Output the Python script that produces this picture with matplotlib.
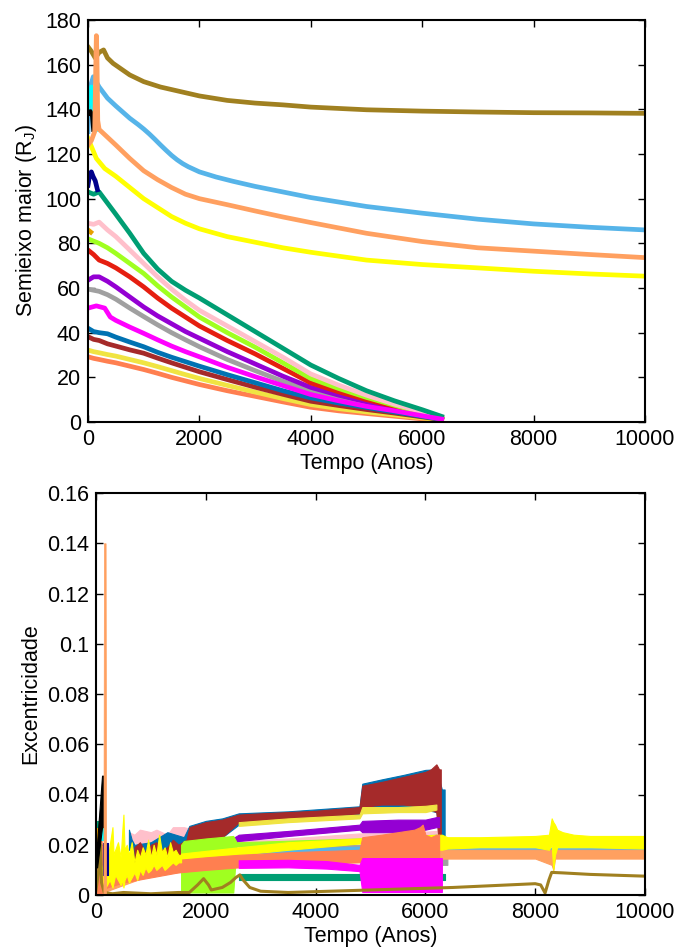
import matplotlib
matplotlib.use("Agg")
import matplotlib.pyplot as plt

plt.rcParams['font.family'] = ['Liberation Sans', 'DejaVu Sans']
plt.rcParams['font.size'] = 15.5

# ---------------- Top panel: semi-major axis (R_J) ----------------
T_DEC = [0, 100, 200, 350, 500, 750, 1000, 1250, 1500, 1750, 2000, 2500, 3000, 3500, 4000,
         4500, 5000, 5500, 6000, 6350]
a_teal = [103, 102, 103, 98, 93, 84.5, 75.5, 68.5, 63, 59, 55.5, 48, 40.5, 33, 25.5, 19.5, 14,
          9.5, 5.5, 2.5]
a_pink = [89, 88.5, 89.5, 86, 83, 77, 71, 65, 59.5, 54.5, 50, 43, 36, 29, 21.5, 16.5, 12, 8,
          4.5, 1.8]
a_gyel = [82, 81, 80, 78, 75.5, 71, 66.5, 61, 56, 51.5, 47, 40, 33.5, 26.5, 19.5, 15, 11, 7.5,
          4, 1.7]
a_red = [77, 75, 72.5, 71, 69, 65, 60.5, 55.5, 51, 47, 43, 36.5, 30.5, 24, 17.5, 13.5, 10, 7,
         4, 1.6]
a_purple = [63.5, 65, 65, 63, 60.5, 56, 51.5, 47.5, 44, 40.5, 37.5, 31.5, 26, 20.5, 15.5, 12,
            9, 6.2, 3.5, 1.5]
a_gray = [59.5, 59, 58.5, 57, 55, 51, 47.2, 43.5, 40, 36.8, 33.7, 28, 23, 18.2, 14, 10.7, 8,
          5.6, 3, 1.4]
a_blue = [42, 40.5, 40, 39.5, 38, 35.8, 33.7, 31.2, 29, 27, 25, 21.2, 17.6, 14, 10.8, 8.5, 6.5,
          4.5, 2.5, 1.2]
a_brown = [38.2, 37, 36.5, 35, 34, 32.3, 30.8, 28.6, 26.5, 24.5, 22.5, 19, 15.6, 12.4, 9.3, 7.4,
           5.6, 4, 2.3, 1.1]
a_khaki = [32.2, 31.5, 31, 30.2, 29.5, 28, 26.5, 24.8, 23, 21.2, 19.5, 16.4, 13.4, 10.5, 7.8,
           6, 4.5, 3.2, 1.8, 1.0]
a_coral = [29.2, 28.5, 28, 27.2, 26.5, 25, 23.5, 21.8, 20, 18.4, 16.8, 14, 11.5, 9, 6.6, 5, 3.8,
           2.6, 1.4, 0.7]

t_mag = [0, 150, 300, 400, 500, 750, 1000, 1250, 1500, 1750, 2000, 2500, 3000, 3500, 4000, 4500,
         5000, 5500, 6000, 6350]
a_mag = [51, 52, 51, 47, 45.5, 42.5, 39.7, 36.8, 34, 31.5, 29.2, 24.5, 20.3, 16.3, 12.3, 9.5, 7,
         5, 2.8, 1.3]

t_olive = [0, 60, 130, 200, 280, 350, 450, 600, 750, 1000, 1300, 1650, 2000, 2500, 3000, 3500,
           4000, 5000, 6000, 7000, 8000, 9000, 10000]
a_olive = [168, 166, 163, 165.5, 166.6, 163, 160.6, 158, 155.4, 152.4, 150, 148, 146, 144, 142.8,
           142, 141, 139.8, 139.2, 138.8, 138.5, 138.4, 138.2]

t_sky = [0, 40, 95, 200, 350, 500, 750, 900, 1000, 1100, 1200, 1300, 1400, 1500, 1600, 1700,
         1800, 2000, 2300, 2600, 3000, 3500, 4000, 5000, 6000, 7000, 8000, 9000, 10000]
a_sky = [130, 150, 154.6, 150, 145, 141.5, 136, 133.2, 131.2, 129, 126.6, 124.1, 121.7, 119.4,
         117.4, 115.7, 114.3, 112, 109.7, 107.8, 105.5, 103, 100.5, 96.5, 93.5, 90.8, 88.7, 87.2,
         86]

t_salmon = [0, 60, 120, 140, 150, 160, 175, 200, 350, 500, 750, 1000, 1250, 1500, 1750, 2000,
            2500, 3000, 3500, 4000, 5000, 6000, 7000, 8000, 9000, 10000]
a_salmon = [124, 126, 130, 160, 173, 165, 135, 131, 127.5, 124, 118, 112.5, 108.5, 105, 102, 100,
            97.3, 94.5, 91.8, 89.3, 84.5, 80.8, 78, 76.5, 75, 73.6]

t_yel = [0, 150, 300, 500, 750, 1000, 1250, 1500, 1750, 2000, 2500, 3000, 3500, 4000, 5000, 6000,
         7000, 8000, 9000, 10000]
a_yel = [127, 118, 113.5, 110, 105, 100, 96, 92, 89, 86.5, 83, 80.5, 78, 76, 72.5, 70.5, 69,
         67.5, 66.3, 65.3]

t_cyan = [0, 30, 60, 90, 120, 150]
a_cyan = [140, 147, 150, 143, 136, 131]
t_black = [0, 40, 80, 100]
a_black = [138, 139, 137, 131]
t_navy = [0, 30, 60, 90, 130, 170]
a_navy = [106, 111, 112, 110, 108, 104]
t_orange = [0, 50]
a_orange = [86, 85]

# ---------------- Bottom panel: eccentricity (time, lower, upper) ----------------
t_gray_e = [1600, 2600, 4800, 6200, 6300, 6400]
lo_gray_e = [0.0165, 0.017, 0.018, 0.018, 0.012, 0.012]
hi_gray_e = [0.0185, 0.019, 0.020, 0.020, 0.016, 0.016]

t_pink_e = [600, 700, 800, 1000, 1100, 1300, 1400, 1600, 2600, 3500, 4800, 5500, 6200]
lo_pink_e = [0.020, 0.021, 0.020, 0.021, 0.020, 0.021, 0.022, 0.022, 0.019, 0.0205, 0.0225,
             0.023, 0.024]
hi_pink_e = [0.025, 0.024, 0.026, 0.025, 0.026, 0.024, 0.027, 0.027, 0.0215, 0.0225, 0.0245,
             0.0245, 0.0255]

t_blue_e = [600, 650, 700, 1000, 1300, 1600, 1700, 2000, 2300, 2600, 3500, 4800, 4850, 5200,
            5600, 6000, 6200, 6300, 6350]
lo_blue_e = [0.018, 0.018, 0.012, 0.014, 0.012, 0.015, 0.021, 0.022, 0.023, 0.028, 0.0295, 0.031,
             0.034, 0.035, 0.035, 0.034, 0.033, 0.020, 0.020]
hi_blue_e = [0.026, 0.022, 0.020, 0.021, 0.025, 0.023, 0.0275, 0.0295, 0.0305, 0.0325, 0.0333,
             0.0353, 0.0443, 0.046, 0.0478, 0.0498, 0.050, 0.042, 0.042]

t_brown_e = [700, 800, 900, 1000, 1100, 1200, 1300, 1400, 1500, 1650, 1700, 2000, 2300, 2600,
             3000, 3500, 4000, 4800, 4850, 5200, 5600, 6000, 6100, 6200, 6250, 6280]
lo_brown_e = [0.013, 0.014, 0.012, 0.013, 0.014, 0.013, 0.013, 0.014, 0.015, 0.016, 0.0215,
              0.022, 0.023, 0.029, 0.0295, 0.030, 0.031, 0.0325, 0.035, 0.036, 0.036, 0.035,
              0.034, 0.033, 0.017, 0.017]
hi_brown_e = [0.019, 0.021, 0.017, 0.020, 0.021, 0.018, 0.019, 0.022, 0.020, 0.022, 0.027,
              0.029, 0.030, 0.032, 0.0325, 0.033, 0.0335, 0.035, 0.0435, 0.045, 0.047, 0.049,
              0.050, 0.052, 0.050, 0.050]

t_khaki_e = [2600, 3500, 4800, 4850, 5500, 6000, 6200]
lo_khaki_e = [0.0275, 0.029, 0.0305, 0.0325, 0.033, 0.033, 0.034]
hi_khaki_e = [0.029, 0.0305, 0.032, 0.035, 0.035, 0.0355, 0.036]

t_purple_e = [2450, 2600, 3500, 4800, 4850, 5500, 6000, 6200, 6250]
lo_purple_e = [0.020, 0.0215, 0.0235, 0.026, 0.025, 0.025, 0.026, 0.027, 0.027]
hi_purple_e = [0.022, 0.024, 0.0255, 0.028, 0.0295, 0.030, 0.030, 0.031, 0.031]

t_gyel_e = [1550, 1600, 2000, 2500, 2560, 2600, 4800, 6200]
lo_gyel_e = [0.001, 0.001, 0.001, 0.001, 0.0195, 0.0195, 0.021, 0.0225]
hi_gyel_e = [0.020, 0.0215, 0.0225, 0.0235, 0.021, 0.021, 0.0225, 0.024]

t_sky_e = [2600, 4800, 6300, 8000, 10000]
lo_sky_e = [0.0165, 0.0175, 0.0172, 0.0172, 0.0172]
hi_sky_e = [0.0180, 0.0192, 0.0188, 0.0188, 0.0188]

t_salmon_e = [0, 1000, 2600, 4800, 6300, 8000, 8300, 8330, 8360, 10000]
lo_salmon_e = [0.0, 0.008, 0.0115, 0.0135, 0.0145, 0.0145, 0.012, 0.010, 0.0145, 0.0145]
hi_salmon_e = [0.012, 0.012, 0.0155, 0.0175, 0.018, 0.018, 0.018, 0.018, 0.018, 0.018]

t_yel_late = [1550, 2600, 3500, 4800, 6300, 6400, 7000, 8000, 8250, 8300, 8330, 8360, 8400, 8500,
              8700, 9000, 10000]
lo_yel_late = [0.013, 0.016, 0.018, 0.0205, 0.018, 0.0185, 0.019, 0.019, 0.018, 0.020, 0.010,
               0.016, 0.019, 0.019, 0.019, 0.019, 0.0185]
hi_yel_late = [0.0165, 0.019, 0.021, 0.0225, 0.024, 0.023, 0.023, 0.0235, 0.024, 0.0305, 0.029,
               0.028, 0.026, 0.025, 0.024, 0.0235, 0.0235]

t_coral_e = [0, 50, 100, 130, 200, 500, 1000, 1500, 2000, 2600, 3500, 4800, 4850, 5200, 5500,
             5800, 5900, 5950, 6000, 6100, 6200, 6250]
lo_coral_e = [0, 0, 0, 0.002, 0.003, 0.005, 0.007, 0.009, 0.010, 0.011, 0.012, 0.013, 0.014,
              0.014, 0.013, 0.012, 0.012, 0.012, 0.013, 0.014, 0.014, 0.014]
hi_coral_e = [0.020, 0.025, 0.022, 0.012, 0.010, 0.011, 0.012, 0.014, 0.015, 0.016, 0.017, 0.018,
              0.023, 0.024, 0.025, 0.026, 0.027, 0.028, 0.024, 0.023, 0.024, 0.024]

t_mag_e = [2600, 3500, 4200, 4800, 4850, 6300]
lo_mag_e = [0.0108, 0.011, 0.0105, 0.0095, 0.0012, 0.0012]
hi_mag_e = [0.0138, 0.014, 0.0135, 0.012, 0.0147, 0.0147]

t_teal_e = [2600, 4800, 6350]
lo_teal_e = [0.006, 0.006, 0.006]
hi_teal_e = [0.0085, 0.0085, 0.0085]

t_yel_early = [100, 150, 200, 250, 300, 320, 350, 400, 450, 480, 500, 520, 560, 600, 650, 700, 750,
               800, 850, 900, 950, 1000, 1050, 1100, 1150, 1200, 1250, 1300, 1350, 1400, 1450,
               1500, 1550]
lo_yel_early = [0.004, 0.002, 0.004, 0.006, 0.003, 0.005, 0.008, 0.006, 0.004, 0.006, 0.003, 0.006,
                0.008, 0.005, 0.007, 0.009, 0.006, 0.010, 0.008, 0.011, 0.009, 0.010, 0.012, 0.010,
                0.011, 0.012, 0.010, 0.011, 0.012, 0.013, 0.012, 0.013, 0.013]
hi_yel_early = [0.010, 0.014, 0.012, 0.020, 0.027, 0.016, 0.018, 0.021, 0.015, 0.026, 0.032, 0.018,
                0.020, 0.016, 0.021, 0.013, 0.018, 0.015, 0.019, 0.016, 0.022, 0.015, 0.020, 0.016,
                0.024, 0.017, 0.019, 0.015, 0.021, 0.017, 0.018, 0.016, 0.016]

t_olive_e = [0, 50, 80, 100, 150, 300, 500, 1000, 1500, 1700, 1850, 1960, 2050, 2100, 2300, 2450,
             2550, 2620, 2680, 2800, 3000, 3500, 5000, 6500, 8000, 8100, 8180, 8250, 8300, 8500,
             9000, 10000]
e_olive = [0.002, 0.010, 0.020, 0.005, 0.001, 0.0005, 0.001, 0.0005, 0.001, 0.001, 0.004, 0.0065,
           0.004, 0.002, 0.003, 0.005, 0.007, 0.008, 0.006, 0.003, 0.0015, 0.001, 0.002, 0.003,
           0.0045, 0.004, 0.0008, 0.006, 0.009, 0.0088, 0.0082, 0.0075]

t_spike_salmon = [135, 145, 175, 185]
e_spike_salmon = [0.005, 0.140, 0.140, 0.005]
t_black_e = [0, 20, 110, 120, 130]
lo_black_e = [0.011, 0.011, 0.027, 0.027, 0.027]
hi_black_e = [0.021, 0.021, 0.0475, 0.0475, 0.0475]
t_navy_e = [130, 220]
lo_navy_e = [0.008, 0.008]
hi_navy_e = [0.0207, 0.0207]
t_cyan_e = [100, 170]
lo_cyan_e = [0.022, 0.022]
hi_cyan_e = [0.034, 0.034]
t_orange_e = [0, 40]
lo_orange_e = [0.021, 0.021]
hi_orange_e = [0.028, 0.028]
t_tealearly_e = [20, 60]
lo_tealearly_e = [0.027, 0.027]
hi_tealearly_e = [0.0295, 0.0295]

C = {
    'olive': '#a08020', 'sky': '#56b4e9', 'salmon': '#ffa060', 'yellow': '#ffff00',
    'cyan': '#00ffff', 'black': '#000000', 'navy': '#00008b', 'teal': '#009e73',
    'pink': '#ffc0cb', 'orange': '#e69f00', 'gyel': '#a0ff20', 'red': '#e51e10',
    'purple': '#9400d3', 'gray': '#a0a0a0', 'magenta': '#ff00ff', 'blue': '#0072b2',
    'brown': '#a52a2a', 'khaki': '#f0e442', 'coral': '#ff7f50',
}

fig = plt.figure(figsize=(6.82, 9.49), dpi=100)
W, H = 682.0, 949.0
ax1 = fig.add_axes([88 / W, 1 - 422 / H, (645 - 88) / W, (422 - 20) / H])
ax2 = fig.add_axes([96 / W, 1 - 895 / H, (645 - 96) / W, (895 - 493) / H])

LW = 3.4
for arr, col in [(a_coral, 'coral'), (a_khaki, 'khaki'), (a_brown, 'brown'), (a_blue, 'blue'),
                 (a_gray, 'gray'), (a_purple, 'purple'), (a_red, 'red'), (a_gyel, 'gyel'),
                 (a_pink, 'pink'), (a_teal, 'teal')]:
    ax1.plot(T_DEC, arr, color=C[col], lw=LW, solid_joinstyle='round')
ax1.plot(t_mag, a_mag, color=C['magenta'], lw=LW, solid_joinstyle='round')
ax1.plot(t_orange, a_orange, color=C['orange'], lw=LW)
ax1.plot(t_yel, a_yel, color=C['yellow'], lw=LW, solid_joinstyle='round')
ax1.plot(t_sky, a_sky, color=C['sky'], lw=LW, solid_joinstyle='round')
ax1.plot(t_olive, a_olive, color=C['olive'], lw=LW, solid_joinstyle='round')
ax1.plot(t_navy, a_navy, color=C['navy'], lw=LW)
ax1.plot(t_cyan, a_cyan, color=C['cyan'], lw=LW)
ax1.plot(t_black, a_black, color=C['black'], lw=LW)
ax1.plot(t_salmon, a_salmon, color=C['salmon'], lw=LW, solid_joinstyle='round')

ax1.set_xlim(0, 10000)
ax1.set_ylim(0, 180)
ax1.set_xticks(range(0, 10001, 2000))
ax1.set_yticks(range(0, 181, 20))
ax1.set_xlabel('Tempo (Anos)', labelpad=2)
ax1.set_ylabel('Semieixo maior (R$_\\mathregular{J}$)', labelpad=4)


def band(ax, t, lo, hi, col, z):
    ax.fill_between(t, lo, hi, color=C[col], lw=0.8, edgecolor=C[col], zorder=z)


band(ax2, t_gray_e, lo_gray_e, hi_gray_e, 'gray', 2)
band(ax2, t_pink_e, lo_pink_e, hi_pink_e, 'pink', 2.5)
band(ax2, t_blue_e, lo_blue_e, hi_blue_e, 'blue', 3)
band(ax2, t_brown_e, lo_brown_e, hi_brown_e, 'brown', 4)
band(ax2, t_khaki_e, lo_khaki_e, hi_khaki_e, 'khaki', 5)
band(ax2, t_purple_e, lo_purple_e, hi_purple_e, 'purple', 6)
band(ax2, t_gyel_e, lo_gyel_e, hi_gyel_e, 'gyel', 8)
band(ax2, t_sky_e, lo_sky_e, hi_sky_e, 'sky', 9)
band(ax2, t_salmon_e, lo_salmon_e, hi_salmon_e, 'salmon', 10)
band(ax2, t_yel_late, lo_yel_late, hi_yel_late, 'yellow', 11)
band(ax2, t_coral_e, lo_coral_e, hi_coral_e, 'coral', 12)
band(ax2, t_teal_e, lo_teal_e, hi_teal_e, 'teal', 13)
band(ax2, t_mag_e, lo_mag_e, hi_mag_e, 'magenta', 14)
band(ax2, t_yel_early, lo_yel_early, hi_yel_early, 'yellow', 15)
ax2.plot(t_olive_e, e_olive, color=C['olive'], lw=2.2, zorder=16)
band(ax2, t_orange_e, lo_orange_e, hi_orange_e, 'orange', 17)
band(ax2, t_tealearly_e, lo_tealearly_e, hi_tealearly_e, 'teal', 17)
band(ax2, t_cyan_e, lo_cyan_e, hi_cyan_e, 'cyan', 17)
band(ax2, t_navy_e, lo_navy_e, hi_navy_e, 'navy', 18)
band(ax2, t_black_e, lo_black_e, hi_black_e, 'black', 18)
ax2.fill_between(t_spike_salmon, 0, e_spike_salmon, color=C['salmon'], lw=0.5, zorder=19)

ax2.set_xlim(0, 10000)
ax2.set_ylim(0, 0.16)
ax2.set_xticks(range(0, 10001, 2000))
yt = [0, 0.02, 0.04, 0.06, 0.08, 0.1, 0.12, 0.14, 0.16]
ax2.set_yticks(yt)
ax2.set_yticklabels(['0', '0.02', '0.04', '0.06', '0.08', '0.1', '0.12', '0.14', '0.16'])
ax2.set_xlabel('Tempo (Anos)', labelpad=2)
ax2.set_ylabel('Excentricidade', labelpad=4)

for ax in (ax1, ax2):
    ax.tick_params(direction='in', length=5, width=1, top=True, right=True, pad=5,
                   labelsize=15.5)
    for s in ax.spines.values():
        s.set_linewidth(1.5)
        s.set_zorder(30)

fig.savefig('out.png', dpi=100)
